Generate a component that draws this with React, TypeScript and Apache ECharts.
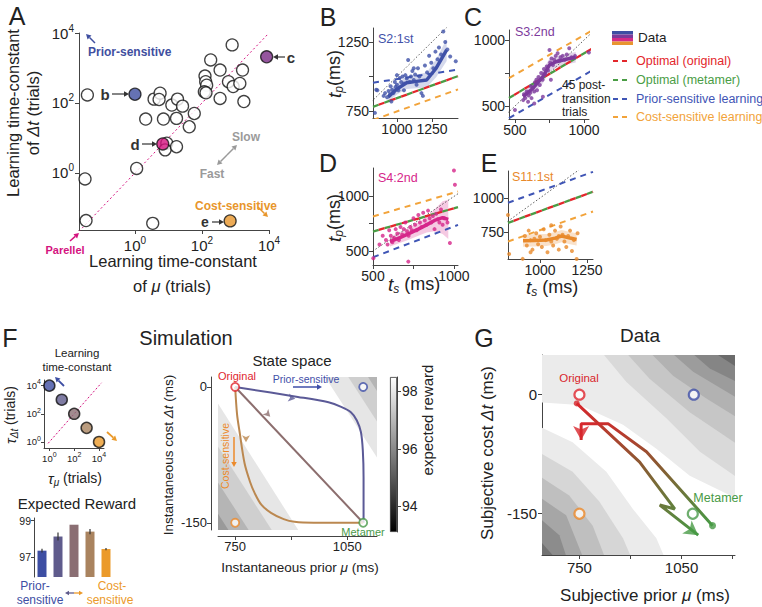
import React, { useEffect, useRef } from 'react';
import * as echarts from 'echarts';

const FONT = '"Liberation Sans", Arial, Helvetica, sans-serif';
const INK = '#222';
const AXIS = '#444';

// ---------------- Panel A (log10 of learning time-constants, trials) ----------------
const aOpenLogMu = [-1.42, -1.49, -1.46, 0.53, 0.05, 0.95, 0.9, 1.24, 0.32, 0.57, 0.75, 0.72, 0.85, 1.1, 1.27, 1.42, 1.24, 1.62, 1.77, 2.09, 2.11, 2.14, 2.07, 2.12, 2.26, 2.54, 2.54, 2.79, 2.9, 2.93, 3.21, 3.13, 3.25];
const aOpenLogDt = [2.23, -0.17, -1.36, -1.44, 0.13, 0.85, 0.66, 0.75, 1.54, 2.11, 2.28, 2.1, 1.54, 1.94, 2.11, 1.91, 1.56, 1.32, 1.7, 2.77, 2.61, 2.51, 2.32, 2.29, 3.23, 2.94, 2.13, 2.61, 3.66, 2.47, 2.94, 2.56, 2.04];
const aHighlightLogMu = [0, 3.93, 0.83, 2.84];
const aHighlightLogDt = [2.25, 3.32, 0.83, -1.37];
const aHighlightColors = ['#3f4fa0', '#7a2a86', '#d4137f', '#e8962c'];
const aParallel = [[-1.67, -1.67], [3.95, 3.95]];
const logTicks = [0, 2, 4];

// ---------------- Panels B–E (ms) ----------------
const bPoints = [[843, 737], [852, 905], [860, 900], [905, 860], [915, 880], [930, 850], [940, 895], [950, 870], [955, 930], [965, 905], [975, 880], [985, 960], [990, 925], [1000, 940], [1010, 900], [1020, 990], [1030, 960], [1040, 1000], [1050, 950], [1060, 1010], [1070, 985], [1080, 1120], [1090, 960], [1100, 1000], [1110, 1040], [1120, 975], [1130, 1015], [1140, 940], [1150, 1060], [1160, 1000], [1175, 880], [1185, 860], [1200, 1080], [1215, 1030], [1230, 1150], [1245, 1100], [1260, 1060], [1275, 1180], [1290, 1125], [1300, 1210], [1315, 1160], [1331, 1325], [1345, 1250], [1360, 1195], [1380, 1145], [1420, 1110], [1000, 1010], [960, 820], [1120, 1060], [1050, 900]];
const bDataLine = [[938, 853], [1000, 910], [1069, 955], [1140, 965], [1212, 975], [1280, 1060], [1355, 1192]];
const bBandHalf = [35, 40, 45, 50, 55, 65, 80];
const bOptimal = [[829, 781], [1436, 1003]];
const bCost = [[829, 685], [1436, 907]];
const bPrior = [[829, 955], [1436, 1050]];

const cPoints = [[500, 470], [560, 545], [565, 590], [575, 560], [585, 610], [595, 533], [600, 580], [610, 600], [615, 650], [620, 560], [630, 640], [640, 610], [645, 680], [655, 700], [660, 620], [670, 720], [680, 660], [690, 750], [700, 700], [702, 571], [710, 780], [720, 740], [730, 800], [740, 770], [750, 925], [755, 830], [765, 860], [775, 810], [785, 850], [795, 880], [809, 900], [820, 845], [830, 870], [845, 880], [860, 850], [875, 890], [893, 938], [910, 870], [935, 880], [1035, 905], [640, 520], [760, 700]];
const cDataLine = [[559, 571], [631, 635], [702, 723], [750, 811], [798, 836], [870, 855], [940, 869]];
const cBandHalf = [30, 40, 50, 50, 45, 40, 40];
const cOptimal = [[457, 561], [1064, 939]];
const cCost = [[457, 712], [1064, 1076]];
const cPrior = [[457, 409], [1064, 773]];

const dPoints = [[502, 433], [540, 560], [560, 640], [580, 600], [590, 560], [600, 690], [610, 640], [620, 580], [630, 620], [640, 700], [650, 660], [660, 600], [670, 720], [680, 650], [690, 700], [700, 760], [710, 680], [718, 402], [720, 640], [730, 720], [740, 690], [750, 800], [760, 740], [770, 690], [780, 830], [790, 760], [800, 720], [810, 850], [820, 780], [830, 740], [840, 870], [850, 800], [860, 760], [870, 820], [880, 700], [890, 840], [900, 790], [910, 760], [920, 880], [930, 740], [940, 800], [975, 573], [960, 760], [1000, 1239], [1006, 1107]];
const dDataLine = [[605, 585], [670, 625], [728, 663], [780, 700], [831, 739], [880, 780], [930, 805], [965, 790]];
const dBandHalf = [45, 50, 55, 60, 70, 100, 150, 180];
const dOptimal = [[500, 678], [1025, 902]];
const dCost = [[500, 816], [1025, 1046]];
const dPrior = [[500, 442], [1025, 739]];

const ePoints = [[836, 588], [830, 875], [908, 552], [920, 720], [930, 650], [940, 760], [950, 690], [960, 620], [970, 700], [980, 740], [990, 660], [1000, 715], [1010, 640], [1020, 770], [1030, 690], [1040, 600], [1050, 730], [1060, 680], [1070, 650], [1080, 760], [1090, 700], [1100, 620], [1110, 790], [1120, 730], [1130, 680], [1140, 640], [1150, 720], [1160, 760], [1170, 610], [1180, 690], [1195, 551], [1200, 740], [1284, 655], [950, 600], [1060, 800], [1100, 720]];
const eDataLine = [[910, 686], [970, 688], [1035, 691], [1080, 705], [1115, 720], [1160, 705], [1195, 695]];
const eBandHalf = [45, 45, 45, 45, 45, 45, 45];
const eOptimal = [[830, 817], [1282, 1046]];
const eCost = [[830, 680], [1282, 901]];
const ePrior = [[830, 965], [1282, 1193]];

// ---------------- Panel F ----------------
const fTauMuLog = [0, 1, 2, 3, 4];
const fTauDtLog = [4, 3, 2, 1, 0];
const fColors = ['#3d4ea3', '#5f5b8c', '#8a6e73', '#a9835f', '#eb9a2a'];
const fRewardCats = ['1', '2', '3', '4', '5'];
const fReward = [97.35, 98.13, 98.78, 98.4, 97.44];
const fRewardErr = [0.1, 0.22, 0, 0.15, 0.06];

// ---------------- Simulation state space ----------------
const simUpperBounds = [[[991, 11], [1255, -158]], [[1053, 11], [1317, -158]], [[1106, 11], [1370, -158]]];
const simUpperFills = ['#e6e6e6', '#cfcfcf', '#b5b5b5'];
const simLowerBounds = [[[659, 11], [919, -158]], [[584, 11], [848, -158]], [[522, 11], [786, -158]], [[468, 11], [732, -158]]];
const simLowerFills = ['#e6e6e6', '#cfcfcf', '#b5b5b5', '#9a9a9a'];
const simBlue = [[750, 0], [918, -11], [1000, -17], [1034, -22], [1060, -28], [1076, -37], [1087, -50], [1092, -70], [1094, -100], [1094, -150]];
const simDiag = [[750, 0], [1093, -150]];
const simOrange = [[750, 0], [755, -30], [762, -50], [775, -84], [790, -105], [802, -117], [820, -130], [846, -139], [880, -146], [909, -149], [960, -150], [1093, -150]];
const simTargets = [[750, 0], [1093, 0], [750, -150], [1093, -150]];
const simTargetColors = ['#e0262e', '#3f4fa8', '#ec8a2a', '#4a9a4a'];
const simArrowPts = [[911, -13], [844, -33], [779, -61]];
const simArrowRot = [-100, -136, 180];
const simArrowColors = ['#5b5a97', '#8c6e6e', '#bb8850'];
const cbTicks = [94, 96, 98];

// ---------------- Panel G (data) ----------------
const gUpperBounds = [
  [[612, -9], [750, -13], [878, -38], [976, -68], [1074, -102], [1232, -135]],
  [[799, 62], [888, 16], [1006, -30], [1104, -72], [1232, -110]],
  [[868, 62], [956, 20], [1074, -22], [1232, -68]],
  [[937, 62], [1025, 24], [1124, -5], [1232, -34]],
  [[996, 62], [1084, 29], [1232, -9]],
  [[1055, 62], [1133, 33], [1232, 12]],
  [[1114, 62], [1232, 29]],
  [[1168, 62], [1232, 43]],
];
const gUpperFills = ['#ebebeb', '#d9d9d9', '#c6c6c6', '#b2b2b2', '#9c9c9c', '#858585', '#6b6b6b', '#4e4e4e'];
const gLowerBounds = [
  [[612, -36], [730, -60], [829, -97], [907, -144], [976, -181], [1010, -215]],
  [[612, -68], [730, -97], [809, -135], [878, -181], [912, -215]],
  [[612, -97], [720, -127], [789, -165], [834, -215]],
  [[612, -123], [711, -152], [770, -215]],
  [[612, -148], [691, -177], [720, -215]],
  [[612, -173], [671, -202], [681, -215]],
];
const gLowerFills = ['#ebebeb', '#d6d6d6', '#bfbfbf', '#a6a6a6', '#8c8c8c', '#727272'];
const gPathA = [[742, -11], [927, -85], [1030, -144], [986, -139], [1099, -177]];
const gPathB = [[1141, -165], [947, -72], [834, -36.5], [755, -36.5], [755, -57]];
const gTargets = [[750, 0], [1086, 0], [750, -150], [1083, -150]];

// ---------------- helpers ----------------
const C_RED = '#e3262b', C_GREEN = '#4a9d45', C_BLUE = '#3f55b5', C_ORANGE = '#f2a33a';

function T(text: string, x: number, y: number, o: any = {}) {
  return {
    type: 'text', x, y, rotation: o.rot || 0, silent: true, z: 100,
    style: {
      text, fill: o.color || INK, fontSize: o.size || 13, fontFamily: FONT,
      fontWeight: o.bold ? 'bold' : 'normal', fontStyle: o.italic ? 'italic' : 'normal',
      align: o.align || 'center', verticalAlign: 'middle', textAlign: o.align || 'center', textVerticalAlign: 'middle',
      rich: o.rich,
    },
  };
}
function arrow(x1: number, y1: number, x2: number, y2: number, color: string, w = 1.5, h = 5) {
  const ang = Math.atan2(y2 - y1, x2 - x1);
  const bx = x2 - h * Math.cos(ang), by = y2 - h * Math.sin(ang);
  const px = -Math.sin(ang) * h * 0.55, py = Math.cos(ang) * h * 0.55;
  return [
    { type: 'line', silent: true, z: 100, shape: { x1, y1, x2: bx, y2: by }, style: { stroke: color, lineWidth: w } },
    { type: 'polygon', silent: true, z: 100, shape: { points: [[x2, y2], [bx + px, by + py], [bx - px, by - py]] }, style: { fill: color } },
  ];
}
function polySeries(gi: number, polys: any[], z = 1) {
  return {
    type: 'custom', xAxisIndex: gi, yAxisIndex: gi, z, silent: true, clip: true,
    data: polys.map((_, i) => [i]),
    renderItem: (params: any, api: any) => {
      const p = polys[params.dataIndex];
      return { type: 'polygon', shape: { points: p.pts.map((q: number[]) => api.coord(q)) }, style: { fill: p.fill } };
    },
  };
}
function lineS(gi: number, data: any, color: any, width: number, type: any = 'solid', dashOffset = 0, z = 3, smooth: any = false) {
  return {
    type: 'line', xAxisIndex: gi, yAxisIndex: gi, data, showSymbol: false, symbol: 'none', silent: true, z, smooth,
    lineStyle: { color, width, type, dashOffset },
  };
}
function vAxis(gi: number, min: number, max: number, ticks: number[], labels: number[], extra: any = {}) {
  return {
    type: 'value', gridIndex: gi, min, max,
    axisLine: { show: true, onZero: false, lineStyle: { color: AXIS, width: 1 } },
    axisTick: { show: true, customValues: ticks, length: extra.tickLen ?? 4, lineStyle: { color: AXIS } },
    axisLabel: {
      show: true, customValues: labels, fontSize: extra.fontSize ?? 14, color: INK, fontFamily: FONT, margin: extra.margin ?? 4,
      formatter: extra.formatter || ((v: number) => String(v)), rich: extra.rich,
    },
    splitLine: { show: false },
    offset: extra.offset ?? 0,
    position: extra.position,
  };
}
const supRich = (b: number, s: number) => ({
  b: { fontSize: b, fontFamily: FONT, color: INK, lineHeight: b + 5 },
  s: { fontSize: s, fontFamily: FONT, color: INK, verticalAlign: 'top', lineHeight: 6 },
});
const supFmt = (v: number) => '{b|10}{s|' + Math.round(v) + '}';

function smallPanelSeries(gi: number, p: any) {
  const upper = p.line.map((q: number[], i: number) => [q[0], q[1] + p.half[i]]);
  const lower = p.line.map((q: number[], i: number) => [q[0], q[1] - p.half[i]]).reverse();
  return [
    polySeries(gi, [{ pts: upper.concat(lower), fill: p.band }], 1),
    lineS(gi, [[300, 300], [1500, 1500]], '#333', 0.8, [1.5, 2]),
    lineS(gi, p.prior, C_BLUE, 2, [6, 5]),
    lineS(gi, p.cost, C_ORANGE, 2, [6, 5]),
    lineS(gi, p.optimal, C_GREEN, 2.3, [6, 6], 0),
    lineS(gi, p.optimal, C_RED, 2.3, [6, 6], 6),
    { type: 'scatter', xAxisIndex: gi, yAxisIndex: gi, data: p.points, symbolSize: 4, itemStyle: { color: p.color }, z: 4, silent: true },
    lineS(gi, p.line, p.color, 3.5, 'solid', 0, 5),
  ];
}

function buildOption() {
  const grids = [
    { left: 79, top: 33, width: 190, height: 197 },
    { left: 373, top: 28, width: 85, height: 90 },
    { left: 509, top: 30, width: 80, height: 89 },
    { left: 373, top: 168, width: 85, height: 97 },
    { left: 508, top: 171, width: 85, height: 88 },
    { left: 44, top: 380, width: 60, height: 68 },
    { left: 34, top: 518, width: 80, height: 59 },
    { left: 218, top: 377, width: 159, height: 153 },
    { left: 390, top: 377, width: 7, height: 155 },
    { left: 542, top: 355, width: 193, height: 200 },
  ];

  const xAxis: any[] = [
    vAxis(0, -1.67, 4, logTicks, logTicks, { formatter: supFmt, rich: supRich(15, 10), margin: 5 }),
    vAxis(1, 829, 1436, [1000, 1250], [1000, 1250]),
    vAxis(2, 457, 1036, [500, 750, 1000], [500, 1000]),
    vAxis(3, 500, 1025, [500, 750, 1000], [500, 1000]),
    vAxis(4, 830, 1282, [1000, 1250], [1000, 1250]),
    vAxis(5, -0.43, 4.4, logTicks, logTicks, { formatter: supFmt, rich: supRich(9.5, 7), margin: 3, tickLen: 3 }),
    { type: 'category', gridIndex: 6, data: fRewardCats, axisLine: { show: false }, axisTick: { show: false }, axisLabel: { show: false } },
    vAxis(7, 704, 1130, [750, 900, 1050], [750, 1050], { offset: 6, fontSize: 13 }),
    { type: 'category', gridIndex: 8, data: ['r'], show: false },
    vAxis(9, 640, 1207, [750, 900, 1050, 1200], [750, 1050], { fontSize: 15, margin: 5 }),
  ];
  const yAxis: any[] = [
    vAxis(0, -1.63, 4, logTicks, logTicks, { formatter: supFmt, rich: supRich(15, 10), margin: 5 }),
    vAxis(1, 700, 1351, [750, 1000, 1250], [750, 1250]),
    vAxis(2, 402, 1076, [500, 750, 1000], [500, 1000]),
    vAxis(3, 371, 1261, [500, 750, 1000], [500, 1000]),
    vAxis(4, 551, 1199, [750, 1000], [750, 1000]),
    vAxis(5, -0.43, 4.4, logTicks, logTicks, { formatter: supFmt, rich: supRich(9.5, 7), margin: 3, tickLen: 3 }),
    vAxis(6, 95.9, 99.15, [97, 99], [97, 99], { fontSize: 10.5, margin: 3, tickLen: 3 }),
    vAxis(7, -158, 11, [0, -150], [0, -150], { offset: 7, fontSize: 13 }),
    vAxis(8, 93.1, 98.5, cbTicks, cbTicks, { position: 'right', fontSize: 14, margin: 5 }),
    vAxis(9, -202, 50, [0, -150], [0, -150], { fontSize: 15, margin: 5 }),
  ];

  const series: any[] = [];

  // ---- A ----
  series.push(lineS(0, aParallel, '#d4137f', 1, [2, 2.5], 0, 2));
  series.push({
    type: 'scatter', xAxisIndex: 0, yAxisIndex: 0, silent: true, z: 4, symbolSize: 12,
    data: aOpenLogMu.map((v, i) => [v, aOpenLogDt[i]]),
    itemStyle: { color: '#fff', borderColor: '#111', borderWidth: 1.3 },
  });
  series.push({
    type: 'scatter', xAxisIndex: 0, yAxisIndex: 0, silent: true, z: 5, symbolSize: 12,
    data: aHighlightLogMu.map((v, i) => ({ value: [v, aHighlightLogDt[i]], itemStyle: { color: aHighlightColors[i] } })),
    itemStyle: { borderColor: '#111', borderWidth: 1.3 },
  });

  // ---- B–E ----
  series.push(...smallPanelSeries(1, { points: bPoints, line: bDataLine, half: bBandHalf, optimal: bOptimal, cost: bCost, prior: bPrior, color: '#3f51a8', band: 'rgba(63,81,168,0.22)' }));
  series.push(...smallPanelSeries(2, { points: cPoints, line: cDataLine, half: cBandHalf, optimal: cOptimal, cost: cCost, prior: cPrior, color: '#7d3a9c', band: 'rgba(125,58,156,0.22)' }));
  series.push(...smallPanelSeries(3, { points: dPoints, line: dDataLine, half: dBandHalf, optimal: dOptimal, cost: dCost, prior: dPrior, color: '#d6268a', band: 'rgba(214,38,138,0.25)' }));
  series.push(...smallPanelSeries(4, { points: ePoints, line: eDataLine, half: eBandHalf, optimal: eOptimal, cost: eCost, prior: ePrior, color: '#e8892b', band: 'rgba(232,137,43,0.25)' }));

  // ---- F ----
  series.push(lineS(5, [[-0.1, -0.1], [4.2, 4.2]], '#d4137f', 1, [2, 2], 0, 2));
  series.push({
    type: 'scatter', xAxisIndex: 5, yAxisIndex: 5, silent: true, z: 4, symbolSize: 11,
    data: fTauMuLog.map((v, i) => ({ value: [v, fTauDtLog[i]], itemStyle: { color: fColors[i] } })),
    itemStyle: { borderColor: '#111', borderWidth: 1.5 },
  });
  series.push({
    type: 'bar', xAxisIndex: 6, yAxisIndex: 6, silent: true, barWidth: 9, clip: true,
    data: fReward.map((v, i) => ({ value: v, itemStyle: { color: fColors[i] } })),
  });
  series.push({
    type: 'custom', xAxisIndex: 6, yAxisIndex: 6, silent: true, z: 5,
    data: fReward.map((v, i) => [i, v, fRewardErr[i]]), encode: { x: 0, y: 1 },
    renderItem: (params: any, api: any) => {
      const i = api.value(0), v = api.value(1), e = api.value(2);
      const p1 = api.coord([i, v - e]), p2 = api.coord([i, v + e]);
      return { type: 'line', shape: { x1: p1[0], y1: p1[1], x2: p2[0], y2: p2[1] }, style: { stroke: '#333', lineWidth: 1.2 } };
    },
  });

  // ---- Simulation ----
  const far = 500;
  series.push(polySeries(7, simUpperBounds.map((b, i) => ({ pts: [...b, [b[b.length - 1][0], far], [b[0][0], far]], fill: simUpperFills[i] })), 1));
  series.push(polySeries(7, simLowerBounds.map((b, i) => ({ pts: [...b, [b[b.length - 1][0], -far], [b[0][0], -far]], fill: simLowerFills[i] })), 1));
  series.push(lineS(7, simDiag, '#8c6e6e', 2, 'solid', 0, 3));
  series.push(lineS(7, simBlue, '#5b5a97', 2, 'solid', 0, 3, 0.3));
  series.push(lineS(7, simOrange, '#bb8850', 2, 'solid', 0, 3, 0.3));
  series.push({
    type: 'scatter', xAxisIndex: 7, yAxisIndex: 7, silent: true, z: 5, symbol: 'arrow', symbolSize: [6, 7],
    data: simArrowPts.map((p, i) => ({ value: p, symbolRotate: simArrowRot[i], itemStyle: { color: simArrowColors[i] } })),
  });
  series.push({
    type: 'scatter', xAxisIndex: 7, yAxisIndex: 7, silent: true, z: 6, symbolSize: 8, clip: false,
    data: simTargets.map((p, i) => ({ value: p, itemStyle: { color: '#fff', borderColor: simTargetColors[i], borderWidth: 1.8 } })),
  });
  // colorbar
  series.push({ type: 'bar', xAxisIndex: 8, yAxisIndex: 8, stack: 'cb', silent: true, barWidth: '100%', data: [93.1], itemStyle: { color: 'rgba(0,0,0,0)' } });
  series.push({
    type: 'bar', xAxisIndex: 8, yAxisIndex: 8, stack: 'cb', silent: true, barWidth: '100%', data: [98.5 - 93.1],
    itemStyle: { color: new echarts.graphic.LinearGradient(0, 0, 0, 1, [{ offset: 0, color: '#ffffff' }, { offset: 1, color: '#000000' }]), borderColor: '#333', borderWidth: 0.8 },
  });

  // ---- G ----
  series.push(polySeries(9, gUpperBounds.map((b, i) => ({ pts: [...b, [b[b.length - 1][0], far], [b[0][0], far]], fill: gUpperFills[i] })), 1));
  series.push(polySeries(9, gLowerBounds.map((b, i) => ({ pts: [...b, [b[b.length - 1][0], -far], [b[0][0], -far]], fill: gLowerFills[i] })), 1));
  const grad = () => new echarts.graphic.LinearGradient(0, 0, 1, 1, [
    { offset: 0, color: '#d8262c' }, { offset: 0.5, color: '#8a5a32' }, { offset: 1, color: '#479a45' },
  ]);
  series.push(lineS(9, gPathA, grad(), 3, 'solid', 0, 4));
  series.push(lineS(9, gPathB, grad(), 3, 'solid', 0, 4));
  series.push({
    type: 'scatter', xAxisIndex: 9, yAxisIndex: 9, silent: true, z: 6, symbol: 'arrow', symbolSize: [12, 14],
    data: [
      { value: gPathA[gPathA.length - 1], symbolRotate: -126, itemStyle: { color: '#479a45' } },
      { value: gPathB[gPathB.length - 1], symbolRotate: 180, itemStyle: { color: '#d8262c' } },
    ],
  });
  series.push({
    type: 'scatter', xAxisIndex: 9, yAxisIndex: 9, silent: true, z: 6,
    data: [
      { value: gPathA[0], symbolSize: 6, itemStyle: { color: '#d8262c' } },
      { value: gPathB[0], symbolSize: 7, itemStyle: { color: '#479a45' } },
    ],
  });
  series.push({
    type: 'scatter', xAxisIndex: 9, yAxisIndex: 9, silent: true, z: 6, symbolSize: 10,
    data: gTargets.map((p, i) => ({ value: p, itemStyle: { color: '#fff', borderColor: simTargetColors[i], borderWidth: 2.2 } })),
  });

  // ---------------- graphic texts ----------------
  const it = (size: number) => ({ i: { fontStyle: 'italic', fontSize: size, fontFamily: FONT, color: INK } });
  const subRich = (main: number, sub: number) => ({
    t: { fontStyle: 'italic', fontSize: main + 1, fontFamily: FONT, color: INK, lineHeight: main + 4 },
    sub: { fontStyle: 'italic', fontSize: sub, fontFamily: FONT, color: INK, verticalAlign: 'bottom', lineHeight: 6 },
    n: { fontSize: main, fontFamily: FONT, color: INK, lineHeight: main + 4 },
  });
  const g: any[] = [];
  // letters
  [['A', 17, 16], ['B', 328, 17], ['C', 473, 17], ['D', 328, 163], ['E', 489, 163], ['F', 10, 338], ['G', 484, 338]].forEach((l: any) =>
    g.push(T(l[0], l[1], l[2], { size: 25 })));
  // A annotations
  g.push(T('Prior-sensitive', 88, 52, { color: '#3f4fa0', bold: true, size: 12, align: 'left' }));
  g.push(...arrow(95, 43, 86, 34, '#3f4fa0'));
  g.push(T('b', 105, 94, { bold: true, size: 15, color: '#333' }), ...arrow(112, 94, 129, 94, '#333', 1.2, 5));
  g.push(T('d', 135, 144, { bold: true, size: 15, color: '#333' }), ...arrow(142, 144, 157, 144, '#333', 1.2, 5));
  g.push(T('e', 205, 222, { bold: true, size: 14, color: '#333' }), ...arrow(212, 222, 224, 222, '#333', 1.2, 5));
  g.push(T('c', 291, 57, { bold: true, size: 15, color: '#333' }), ...arrow(285, 57, 273, 57, '#333', 1.2, 5));
  g.push(T('Slow', 246, 137, { color: '#9a9a9a', bold: true, size: 12 }));
  g.push(T('Fast', 212, 174, { color: '#9a9a9a', bold: true, size: 12 }));
  g.push(...arrow(227, 155, 237, 145, '#9a9a9a', 1.5, 5), ...arrow(227, 155, 217, 165, '#9a9a9a', 1.5, 5));
  g.push(T('Cost-sensitive', 195, 206, { color: '#e8962c', bold: true, size: 12, align: 'left' }));
  g.push(...arrow(258, 207, 268, 217, '#e8962c'));
  g.push(T('Parellel', 65, 250, { color: '#d4137f', bold: true, size: 11 }));
  g.push(...arrow(70, 241, 79, 233, '#d4137f'));
  g.push(T('Learning time-constant', 13, 113, { size: 16.5, rot: Math.PI / 2 }));
  g.push(T('of {i|Δt} (trials)', 33, 113, { size: 16.5, rot: Math.PI / 2, rich: it(16.5) }));
  g.push(T('Learning time-constant', 173, 261, { size: 16.5 }));
  g.push(T('of {i|μ} (trials)', 172, 286, { size: 16.5, rich: it(16.5) }));
  // B–E labels
  g.push(T('S2:1st', 378, 39, { color: '#3f51a8', size: 12.5, align: 'left' }));
  g.push(T('S3:2nd', 515, 32, { color: '#7d3a9c', size: 12.5, align: 'left' }));
  g.push(T('S4:2nd', 378, 178, { color: '#d6268a', size: 12.5, align: 'left' }));
  g.push(T('S11:1st', 512, 177, { color: '#e8892b', size: 12.5, align: 'left' }));
  g.push(T('45 post-', 562, 85, { size: 12, align: 'left' }));
  g.push(T('transition', 562, 99, { size: 12, align: 'left' }));
  g.push(T('trials', 562, 112, { size: 12, align: 'left' }));
  g.push(T('{t|t}{sub|p}{n|(ms)}', 334, 74, { rot: Math.PI / 2, rich: subRich(18, 12) }));
  g.push(T('{t|t}{sub|p}{n|(ms)}', 334, 218, { rot: Math.PI / 2, rich: subRich(18, 12) }));
  g.push(T('{t|t}{sub|s}{n| (ms)}', 414, 284, { rich: subRich(18, 12) }));
  g.push(T('{t|t}{sub|s}{n| (ms)}', 552, 287, { rich: subRich(18, 12) }));
  // legend
  [['#3d4fa3', 31], ['#7c3a9a', 34.5], ['#d42a88', 38], ['#e8952f', 41.5]].forEach((r: any) =>
    g.push({ type: 'rect', silent: true, shape: { x: 612, y: r[1], width: 21, height: 3.5 }, style: { fill: r[0] } }));
  g.push(T('Data', 638, 37, { size: 13.5, align: 'left' }));
  [['Optimal (original)', C_RED, 61], ['Optimal (metamer)', C_GREEN, 80], ['Prior-sensitive learning', C_BLUE, 99], ['Cost-sensitive learning', C_ORANGE, 117]].forEach((r: any) => {
    g.push({ type: 'line', silent: true, shape: { x1: 613, y1: r[2], x2: 618, y2: r[2] }, style: { stroke: r[1], lineWidth: 2 } });
    g.push({ type: 'line', silent: true, shape: { x1: 622, y1: r[2], x2: 627, y2: r[2] }, style: { stroke: r[1], lineWidth: 2 } });
    g.push(T(r[0], 636, r[2], { color: r[1], size: 12.5, align: 'left' }));
  });
  // F
  g.push(T('Learning', 77, 353, { size: 11.5 }));
  g.push(T('time-constant', 77, 367, { size: 11.5 }));
  g.push(T('{t|τ}{sub|Δt}{n| (trials)}', 10, 415, { rot: Math.PI / 2, rich: subRich(14, 10) }));
  g.push(T('{t|τ}{sub|μ}{n| (trials)}', 75, 478, { rich: subRich(14, 10) }));
  g.push(...arrow(64, 386, 55, 377, '#3d4ea3', 1.8, 5));
  g.push(...arrow(107, 432, 117, 441, '#eb9a2a', 1.8, 5));
  g.push(T('Expected Reward', 77, 503, { size: 15 }));
  g.push(T('Prior-', 35, 586, { color: '#3d4ea3', size: 12 }));
  g.push(T('sensitive', 40, 600, { color: '#3d4ea3', size: 12 }));
  g.push(T('Cost-', 112, 586, { color: '#eb9a2a', size: 12 }));
  g.push(T('sensitive', 110, 600, { color: '#eb9a2a', size: 12 }));
  g.push(...arrow(74, 593, 65, 593, '#5f5b8c', 1.3, 4), ...arrow(74, 593, 83, 593, '#eb9a2a', 1.3, 4));
  // Simulation
  g.push(T('Simulation', 186, 338, { size: 20 }));
  g.push(T('State space', 292, 360, { size: 15 }));
  g.push(T('Instantaneous cost {i|Δt} (ms)', 168, 455, { size: 13.5, rot: Math.PI / 2, rich: it(13.5) }));
  g.push(T('Instantaneous prior {i|μ} (ms)', 300, 567, { size: 13.5, rich: it(13.5) }));
  g.push(T('Original', 237, 376, { color: '#e0262e', size: 11 }));
  g.push(T('Metamer', 363, 532, { color: '#4a9a4a', size: 11 }));
  g.push(T('Prior-sensitive', 306, 379, { color: '#3f4fa8', size: 10.5 }));
  g.push(...arrow(293, 387, 322, 387, '#3f4fa8', 1.5, 5));
  g.push(T('Cost-sensitive', 225, 456, { color: '#ec8a2a', size: 10.5, rot: Math.PI / 2 }));
  g.push(...arrow(234, 437, 234, 467, '#ec8a2a', 1.5, 5));
  g.push(T('expected reward', 427, 420, { size: 15, rot: Math.PI / 2 }));
  // G
  g.push(T('Data', 640, 335, { size: 19 }));
  g.push(T('Original', 579, 378, { color: '#d8262c', size: 11.5 }));
  g.push(T('Metamer', 718, 498, { color: '#479a45', size: 12.5 }));
  g.push(T('Subjective cost {i|Δt} (ms)', 487, 453, { size: 17, rot: Math.PI / 2, rich: it(17) }));
  g.push(T('Subjective prior {i|μ} (ms)', 645, 595, { size: 17, rich: it(17) }));

  return {
    animation: false,
    backgroundColor: '#fff',
    textStyle: { fontFamily: FONT },
    grid: grids,
    xAxis,
    yAxis,
    series,
    graphic: g,
  };
}

export default function App() {
  const ref = useRef<HTMLDivElement>(null);
  useEffect(() => {
    const chart = echarts.init(ref.current as HTMLDivElement, null, { renderer: 'svg' });
    chart.setOption(buildOption() as any);
    return () => chart.dispose();
  }, []);
  return <div ref={ref} style={{ position: 'fixed', left: 0, top: 0, width: 762, height: 607, background: '#fff' }} />;
}
